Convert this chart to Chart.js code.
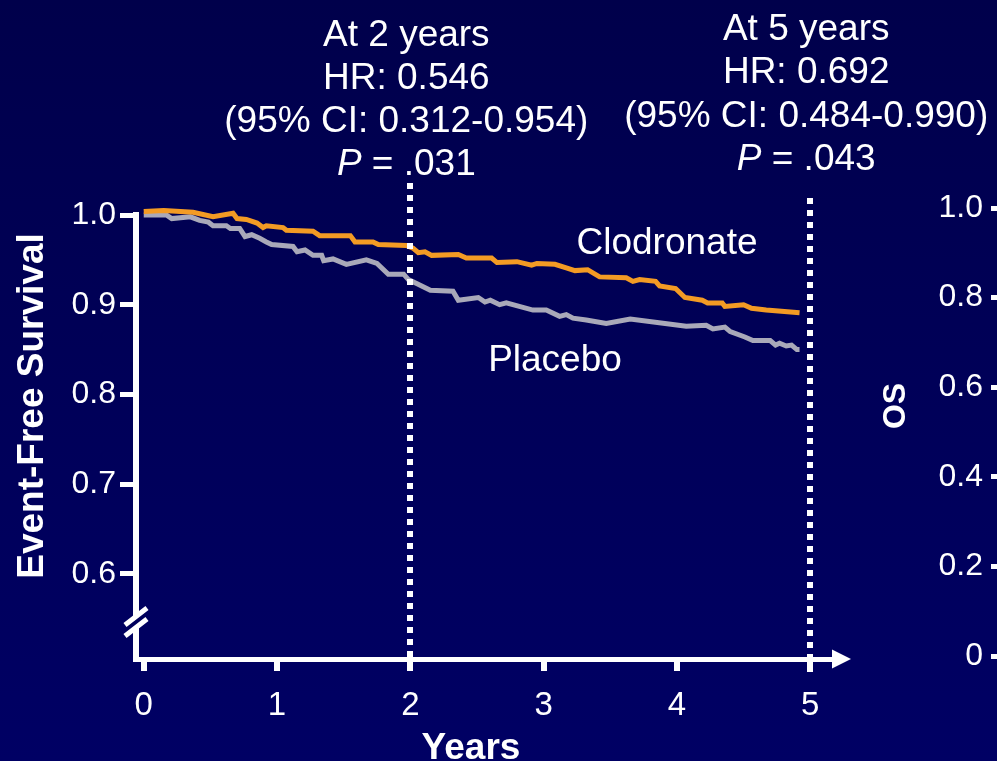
<!DOCTYPE html>
<html>
<head>
<meta charset="utf-8">
<title>Event-Free Survival: Clodronate vs Placebo</title>
<script src="https://cdn.jsdelivr.net/npm/chart.js@4.4.1/dist/chart.umd.min.js"></script>
<style>
  html, body { margin: 0; padding: 0; width: 997px; height: 761px; overflow: hidden;
    background: linear-gradient(180deg, #00004b 0%, #000058 50%, #000064 100%); }
  #main { position: absolute; left: 0; top: 0; }
  #os { position: absolute; left: 880px; top: 0; }
</style>
</head>
<body>
<canvas id="main" width="997" height="761"></canvas>
<canvas id="os" width="200" height="761"></canvas>
<script>
// Kaplan-Meier event-free survival (years, proportion event-free)
const clodronateYears = [0, 0.15, 0.37, 0.52, 0.67, 0.70, 0.77, 0.85, 0.895, 0.92, 1.045, 1.07, 1.27, 1.32, 1.55, 1.585, 1.72, 1.76, 1.97, 2.02, 2.06, 2.11, 2.16, 2.36, 2.42, 2.61, 2.65, 2.80, 2.91, 2.95, 3.085, 3.17, 3.235, 3.33, 3.42, 3.62, 3.67, 3.72, 3.84, 3.87, 3.99, 4.06, 4.19, 4.23, 4.34, 4.36, 4.50, 4.56, 4.67, 4.92];
const clodronateEFS   = [1.004, 1.005, 1.003, 0.998, 1.002, 0.996, 0.995, 0.991, 0.986, 0.988, 0.986, 0.983, 0.982, 0.977, 0.977, 0.970, 0.970, 0.967, 0.966, 0.963, 0.958, 0.959, 0.955, 0.956, 0.952, 0.952, 0.947, 0.948, 0.944, 0.946, 0.945, 0.941, 0.938, 0.939, 0.931, 0.930, 0.926, 0.928, 0.926, 0.921, 0.918, 0.908, 0.905, 0.902, 0.902, 0.898, 0.900, 0.896, 0.894, 0.891];

const placeboYears = [0, 0.17, 0.21, 0.35, 0.42, 0.485, 0.52, 0.62, 0.65, 0.72, 0.76, 0.81, 0.87, 0.92, 0.96, 1.12, 1.15, 1.21, 1.27, 1.335, 1.35, 1.42, 1.52, 1.67, 1.75, 1.835, 1.95, 1.985, 2.07, 2.15, 2.32, 2.36, 2.51, 2.56, 2.60, 2.67, 2.72, 2.92, 3.02, 3.12, 3.17, 3.22, 3.32, 3.47, 3.65, 4.07, 4.22, 4.27, 4.36, 4.40, 4.51, 4.57, 4.70, 4.74, 4.77, 4.82, 4.86, 4.90, 4.92];
const placeboEFS   = [1.0, 1.0, 0.996, 0.998, 0.994, 0.992, 0.988, 0.988, 0.985, 0.985, 0.976, 0.978, 0.974, 0.970, 0.967, 0.965, 0.959, 0.961, 0.955, 0.955, 0.949, 0.951, 0.945, 0.950, 0.946, 0.934, 0.934, 0.928, 0.922, 0.916, 0.915, 0.905, 0.908, 0.903, 0.905, 0.900, 0.902, 0.894, 0.894, 0.887, 0.889, 0.885, 0.883, 0.879, 0.884, 0.876, 0.877, 0.873, 0.875, 0.870, 0.864, 0.860, 0.860, 0.855, 0.857, 0.854, 0.855, 0.850, 0.850];

// Axis ticks
const yearTicks = [0, 1, 2, 3, 4, 5];
const efsTicks  = [0.6, 0.7, 0.8, 0.9, 1.0];
const osTicks   = [0, 0.2, 0.4, 0.6, 0.8, 1.0];

// Landmark analyses marked on the time axis
const landmarkYears = [2, 5];
const landmarkText = [
  ['At 2 years', 'HR: 0.546', '(95% CI: 0.312-0.954)', '.031'],
  ['At 5 years', 'HR: 0.692', '(95% CI: 0.484-0.990)', '.043']
];

const FONT = '"Liberation Sans", Arial, Helvetica, sans-serif';
const ORANGE = '#f39b24';
const GRAY = '#a9a9b9';
const WHITE = '#ffffff';

const toPoints = (xs, ys) => xs.map((x, i) => ({ x: x, y: ys[i] }));

// Dotted landmark lines, axis arrow, axis break and all free text
const overlay = {
  id: 'overlay',
  afterDatasetsDraw(chart) {
    const { ctx, scales: { x } } = chart;
    const tops = [183, 198];
    ctx.save();
    ctx.strokeStyle = WHITE;
    ctx.lineWidth = 6;
    ctx.setLineDash([6, 6]);
    landmarkYears.forEach((yr, i) => {
      const px = Math.round(x.getPixelForValue(yr));
      ctx.beginPath();
      ctx.moveTo(px, tops[i]);
      ctx.lineTo(px, 672);
      ctx.stroke();
    });
    ctx.restore();
  },
  afterDraw(chart) {
    const { ctx, chartArea: a, scales: { x } } = chart;
    ctx.save();

    // arrow head on the time axis
    ctx.fillStyle = WHITE;
    ctx.beginPath();
    ctx.moveTo(a.right - 1, a.bottom - 9.5);
    ctx.lineTo(a.right + 18, a.bottom);
    ctx.lineTo(a.right - 1, a.bottom + 9.5);
    ctx.closePath();
    ctx.fill();

    // axis break on the survival axis
    ctx.fillStyle = '#00005c';
    ctx.beginPath();
    ctx.moveTo(128, 625); ctx.lineTo(146, 611); ctx.lineTo(146, 619); ctx.lineTo(128, 633);
    ctx.closePath();
    ctx.fill();
    ctx.strokeStyle = WHITE;
    ctx.lineWidth = 5;
    ctx.lineCap = 'butt';
    ctx.beginPath();
    ctx.moveTo(125, 625); ctx.lineTo(147, 608);
    ctx.moveTo(125, 636); ctx.lineTo(147, 619);
    ctx.stroke();

    // landmark statistics
    ctx.fillStyle = WHITE;
    ctx.textBaseline = 'alphabetic';
    const size = 37;
    const baselines = [[46, 89, 132, 175], [40, 83, 127, 170]];
    landmarkYears.forEach((yr, i) => {
      const cx = x.getPixelForValue(yr) - 4;
      const lines = landmarkText[i];
      ctx.font = size + 'px ' + FONT;
      ctx.textAlign = 'center';
      for (let k = 0; k < 3; k++) ctx.fillText(lines[k], cx, baselines[i][k]);
      // "P = .0xx" with italic P
      ctx.textAlign = 'left';
      ctx.font = 'italic ' + size + 'px ' + FONT;
      const wP = ctx.measureText('P').width;
      ctx.font = size + 'px ' + FONT;
      const rest = ' = ' + lines[3];
      const wR = ctx.measureText(rest).width;
      const x0 = cx - (wP + wR) / 2;
      ctx.font = 'italic ' + size + 'px ' + FONT;
      ctx.fillText('P', x0, baselines[i][3]);
      ctx.font = size + 'px ' + FONT;
      ctx.fillText(rest, x0 + wP, baselines[i][3]);
    });

    // series names
    ctx.textAlign = 'center';
    ctx.font = size + 'px ' + FONT;
    ctx.fillText('Clodronate', 667, 254);
    ctx.fillText('Placebo', 555, 371);

    // axis titles
    ctx.font = 'bold 37px ' + FONT;
    ctx.fillText('Years', 471, 759);
    ctx.translate(43, 406);
    ctx.rotate(-Math.PI / 2);
    ctx.fillText('Event-Free Survival', 0, 0);
    ctx.restore();
  }
};

new Chart(document.getElementById('main'), {
  type: 'line',
  data: {
    datasets: [
      { label: 'Clodronate', data: toPoints(clodronateYears, clodronateEFS), borderColor: ORANGE,
        borderWidth: 5, pointRadius: 0, tension: 0, clip: false },
      { label: 'Placebo', data: toPoints(placeboYears, placeboEFS), borderColor: GRAY,
        borderWidth: 5, pointRadius: 0, tension: 0, clip: false }
    ]
  },
  options: {
    responsive: false,
    animation: false,
    devicePixelRatio: 1,
    layout: { padding: { left: 0, right: 164, top: 215, bottom: 0 } },
    plugins: { legend: { display: false }, tooltip: { enabled: false } },
    scales: {
      x: {
        type: 'linear', min: -0.058, max: 5.171,
        afterBuildTicks: s => { s.ticks = yearTicks.map(v => ({ value: v })); },
        afterFit: s => { s.height = 102; },
        grid: { drawOnChartArea: false, drawTicks: true, tickLength: 12, lineWidth: 6, color: WHITE },
        border: { display: true, color: WHITE, width: 5 },
        ticks: { color: WHITE, font: { family: FONT, size: 33 }, padding: 15, maxRotation: 0, autoSkip: false }
      },
      y: {
        type: 'linear', min: 0.505, max: 1.0,
        afterBuildTicks: s => { s.ticks = efsTicks.map(v => ({ value: v })); },
        afterFit: s => { s.width = 136; },
        grid: { drawOnChartArea: false, drawTicks: true, tickLength: 16, lineWidth: 5, color: WHITE },
        border: { display: true, color: WHITE, width: 6 },
        ticks: { color: WHITE, font: { family: FONT, size: 32 }, padding: 4, autoSkip: false,
                 callback: v => Number(v).toFixed(1) }
      }
    }
  },
  plugins: [overlay]
});

// Overall survival axis of the neighbouring panel
const osTitle = {
  id: 'osTitle',
  afterDraw(chart) {
    const ctx = chart.ctx;
    ctx.save();
    ctx.fillStyle = WHITE;
    ctx.font = 'bold 32px ' + FONT;
    ctx.textAlign = 'center';
    ctx.textBaseline = 'alphabetic';
    ctx.translate(905 - 880, 406);
    ctx.rotate(-Math.PI / 2);
    ctx.fillText('OS', 0, 0);
    ctx.restore();
  }
};

new Chart(document.getElementById('os'), {
  type: 'line',
  data: { datasets: [] },
  options: {
    responsive: false,
    animation: false,
    devicePixelRatio: 1,
    layout: { padding: { left: 0, right: 0, top: 208, bottom: 105 } },
    plugins: { legend: { display: false }, tooltip: { enabled: false } },
    scales: {
      x: { type: 'linear', display: false, min: 0, max: 5 },
      y: {
        type: 'linear', min: 0, max: 1,
        afterBuildTicks: s => { s.ticks = osTicks.map(v => ({ value: v })); },
        afterFit: s => { s.width = 119; },
        grid: { drawOnChartArea: false, drawTicks: true, tickLength: 8, lineWidth: 5, color: WHITE },
        border: { display: true, color: WHITE, width: 5 },
        ticks: { color: WHITE, font: { family: FONT, size: 32 }, padding: 8, autoSkip: false,
                 callback: v => (v === 0 ? '0' : Number(v).toFixed(1)) }
      }
    }
  },
  plugins: [osTitle]
});
</script>
</body>
</html>
